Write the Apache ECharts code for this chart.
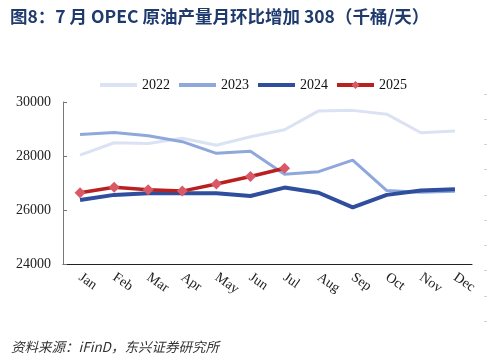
<!DOCTYPE html>
<html><head><meta charset="utf-8">
<script src="https://cdn.jsdelivr.net/npm/echarts@6/dist/echarts.min.js"></script>
<style>html,body{margin:0;padding:0;background:#fff}#c{width:491px;height:357px}</style>
</head><body><div id="c"></div>
<script>
const categories = ['Jan','Feb','Mar','Apr','May','Jun','Jul','Aug','Sep','Oct','Nov','Dec'];
const s2022 = [28030,28490,28460,28660,28400,28710,28970,29670,29690,29550,28860,28930];
const s2023 = [28800,28870,28750,28530,28100,28180,27320,27420,27850,26720,26660,26690];
const s2024 = [26370,26560,26620,26620,26620,26520,26830,26640,26100,26560,26720,26770];
const s2025 = [26640,26840,26750,26700,26960,27240,27548];
const yTicks = {min:24000, max:30000, interval:2000};

const chart = echarts.init(document.getElementById('c'));
const serif = '"Liberation Serif","DejaVu Serif",serif';
const cjk = '"Noto Sans CJK SC","Liberation Sans",sans-serif';
chart.setOption({
  animation:false,
  backgroundColor:'#fff',
  title:[{
    text:'图8：7 月 OPEC 原油产量月环比增加 308（千桶/天）',
    left:5, top:3,
    textStyle:{fontSize:17.5, fontWeight:'bold', color:'#1f3b6e', fontFamily:cjk}
  },{
    text:'资料来源：iFinD，东兴证券研究所',
    left:6, top:335,
    textStyle:{fontSize:13.5, fontWeight:'normal', fontStyle:'italic', color:'#333', fontFamily:cjk}
  }],
  legend:{
    top:73, left:93, itemGap:7, itemWidth:37, itemHeight:10,
    textStyle:{fontFamily:serif, fontSize:14, color:'#111'},
    data:[
      {name:'2022', itemStyle:{opacity:0}, lineStyle:{width:4}},
      {name:'2023', itemStyle:{opacity:0}, lineStyle:{width:4}},
      {name:'2024', itemStyle:{opacity:0}, lineStyle:{width:4}},
      {name:'2025', lineStyle:{width:4}}
    ]
  },
  grid:[{left:63, right:19, top:102, bottom:93},
        {left:484, right:4, top:94, bottom:36}],
  xAxis:[{
    type:'category', data:categories, gridIndex:0,
    axisLine:{lineStyle:{color:'#222', width:1}},
    axisTick:{inside:true, length:4, lineStyle:{color:'#222'}},
    axisLabel:{rotate:-35, fontFamily:serif, fontSize:14, color:'#222', margin:12}
  },{
    type:'value', gridIndex:1, show:false
  }],
  yAxis:[{
    type:'value', gridIndex:0, min:yTicks.min, max:yTicks.max, interval:yTicks.interval,
    axisLine:{show:true, lineStyle:{color:'#777'}},
    axisTick:{show:true, inside:true, length:4, lineStyle:{color:'#777'}},
    splitLine:{show:false},
    axisLabel:{fontFamily:serif, fontSize:14, color:'#222', margin:12, formatter:v=>String(v)}
  },{
    type:'value', gridIndex:1, min:0, max:9, interval:1,
    axisLine:{show:false},
    axisTick:{show:true, inside:true, length:3, lineStyle:{color:'#d4d4d4'}},
    axisLabel:{show:false}, splitLine:{show:false}
  }],
  series:[
    {name:'2022', type:'line', data:s2022, symbol:'none', lineStyle:{color:'#dae2f3', width:3}, itemStyle:{color:'#dae2f3'}},
    {name:'2023', type:'line', data:s2023, symbol:'none', lineStyle:{color:'#8ea8dc', width:3}, itemStyle:{color:'#8ea8dc'}},
    {name:'2024', type:'line', data:s2024, symbol:'none', lineStyle:{color:'#2f4e9e', width:4}, itemStyle:{color:'#2f4e9e'}},
    {name:'2025', type:'line', data:s2025, symbol:'diamond', symbolSize:11, lineStyle:{color:'#b8211f', width:3.5}, itemStyle:{color:'#d95a66'}}
  ]
});
</script></body></html>
